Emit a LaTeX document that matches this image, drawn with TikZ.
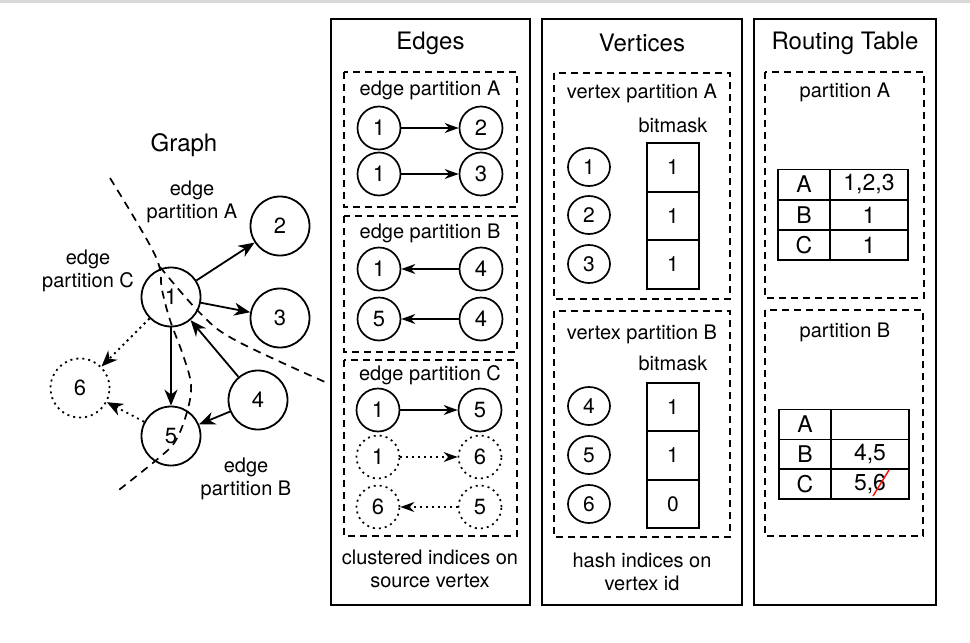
\documentclass[tikz,border=0pt]{standalone}
\usepackage{fontspec}
\setmainfont{TeX Gyre Heros}
\usetikzlibrary{arrows.meta,shapes.geometric}
\begin{document}
\begin{tikzpicture}[x=1pt,y=-1pt,
  panel/.style={draw, line width=2pt},
  partbox/.style={draw, line width=1.9pt, dash pattern=on 7pt off 5pt},
  cutline/.style={draw, line width=1.7pt, dash pattern=on 8pt off 6pt},
  dotline/.style={dash pattern=on 2pt off 4pt},
  title/.style={font=\fontsize{24}{28}\selectfont},
  txt/.style={font=\fontsize{20}{23}\selectfont, align=center},
  gv/.style={circle, draw, line width=1.8pt, minimum size=59pt, inner sep=0pt, font=\fontsize{22}{25}\selectfont},
  ev/.style={circle, draw, line width=1.7pt, minimum size=43pt, inner sep=0pt, font=\fontsize{22}{26}\selectfont},
  vv/.style={ellipse, draw, line width=1.7pt, minimum width=42pt, minimum height=38pt, inner sep=0pt, font=\fontsize{21}{24}\selectfont},
  cell/.style={rectangle, draw, line width=1.7pt, minimum width=52pt, minimum height=48.5pt, inner sep=0pt, font=\fontsize{21}{25}\selectfont},
  tl/.style={rectangle, draw, line width=1.7pt, minimum width=52pt, minimum height=30pt, inner sep=0pt, font=\fontsize{23}{26}\selectfont},
  tr/.style={rectangle, draw, line width=1.7pt, minimum width=78pt, minimum height=30pt, inner sep=0pt, font=\fontsize{23}{26}\selectfont},
  garr/.style={-{Stealth[length=16pt,width=13pt,inset=5pt]}, line width=1.8pt},
  earr/.style={-{Stealth[length=14pt,width=10pt,inset=4.5pt]}, line width=1.7pt},
]
\useasboundingbox (0,0) rectangle (970,643);
\fill[gray!30] (0,0) rectangle (970,2.5);

% ---------------- Graph ----------------
\node[title] (gtitle) at (184,145) {Graph};
\node[txt] (lA) at (192,201.5) {edge\\partition A};
\node[txt] (lC) at (88,270.5) {edge\\partition C};
\node[txt] (lB) at (246,479) {edge\\partition B};

\draw[cutline] plot[smooth, tension=0.6] coordinates {(110,178) (155,255) (162,290) (170,320) (183,355) (191,385) (187,412) (176,440) (160,457) (115,493)};
\draw[cutline] plot[smooth, tension=0.6] coordinates {(160,267) (200,313) (235,340) (325,382)};

\node[gv] (g1) at (171,297) {1};
\node[gv] (g2) at (280,226) {2};
\node[gv] (g3) at (280,318) {3};
\node[gv] (g4) at (258,400) {4};
\node[gv] (g5) at (171,436) {5};
\node[gv, dotline] (g6) at (80,388) {6};

\draw[garr] (g1) -- (g2);
\draw[garr] (g1) -- (g3);
\draw[garr] (g1) -- (g5);
\draw[garr] (g4) -- (g1);
\draw[garr] (g4) -- (g5);
\draw[garr, dotline] (g1) -- (g6);
\draw[garr, dotline] (g5) -- (g6);

% ---------------- Edges ----------------
\draw[panel] (331,19) rectangle (530,605);
\node[title] (etitle) at (430.5,43) {Edges};
\draw[partbox] (344,72) rectangle (517,207);
\draw[partbox] (344,216) rectangle (517,352);
\draw[partbox] (344,360) rectangle (517,536);
\node[txt] (epA) at (430,90) {edge partition A};
\node[txt] (epB) at (430,233) {edge partition B};
\node[txt] (epC) at (430,375) {edge partition C};

\node[ev] (a1) at (379,128) {1};
\node[ev] (a2) at (481,128) {2};
\node[ev] (a3) at (379,174) {1};
\node[ev] (a4) at (481,174) {3};
\draw[earr] (a1) -- (a2);
\draw[earr] (a3) -- (a4);

\node[ev] (b1) at (379,269) {1};
\node[ev] (b2) at (481,269) {4};
\node[ev] (b3) at (379,319) {5};
\node[ev] (b4) at (481,319) {4};
\draw[earr] (b2) -- (b1);
\draw[earr] (b4) -- (b3);

\node[ev] (c1) at (378,410) {1};
\node[ev] (c2) at (480,410) {5};
\node[ev, dotline] (c3) at (378,457) {1};
\node[ev, dotline] (c4) at (480,457) {6};
\node[ev, dotline] (c5) at (378,507) {6};
\node[ev, dotline] (c6) at (480,507) {5};
\draw[earr] (c1) -- (c2);
\draw[earr, dotline] (c3) -- (c4);
\draw[earr, dotline] (c6) -- (c5);

\node[txt] (ecap) at (430,569) {clustered indices on\\source vertex};

% ---------------- Vertices ----------------
\draw[panel] (542,19) rectangle (742,605);
\node[title] (vtitle) at (642,43) {Vertices};
\draw[partbox] (554,73) rectangle (730,299);
\draw[partbox] (554,311) rectangle (730,537);
\node[txt] (vpA) at (642,93) {vertex partition A};
\node[txt] (bmA) at (673,125) {bitmask};
\node[vv] (v1) at (589,167) {1};
\node[vv] (v2) at (589,215) {2};
\node[vv] (v3) at (589,264) {3};
\node[cell] (m1) at (673,167.5) {1};
\node[cell] (m2) at (673,216) {1};
\node[cell] (m3) at (673,264.5) {1};

\node[txt] (vpB) at (642,334) {vertex partition B};
\node[txt] (bmB) at (673,363) {bitmask};
\node[vv] (v4) at (589,406) {4};
\node[vv] (v5) at (589,455) {5};
\node[vv] (v6) at (589,504) {6};
\node[cell] (m4) at (673,407) {1};
\node[cell] (m5) at (673,455.5) {1};
\node[cell] (m6) at (673,504) {0};

\node[txt] (vcap) at (642,571.5) {hash indices on\\vertex id};

% ---------------- Routing Table ----------------
\draw[panel] (754,19) rectangle (936,605);
\node[title] (rtitle) at (845,43) {Routing Table};
\draw[partbox] (765,72) rectangle (924,298);
\draw[partbox] (765,310) rectangle (923,536);
\node[txt] (rpA) at (845,92) {partition A};
\node[txt] (rpB) at (845,332) {partition B};

\node[tl] (ra1) at (804,184.5) {A};
\node[tr] (ra2) at (869,184.5) {1,2,3};
\node[tl] (rb1) at (804,215) {B};
\node[tr] (rb2) at (869,215) {1};
\node[tl] (rc1) at (804,245) {C};
\node[tr] (rc2) at (869,245) {1};

\node[tl] (sa1) at (805,424.5) {A};
\node[tr] (sa2) at (870,424.5) {};
\node[tl] (sb1) at (805,454.5) {B};
\node[tr] (sb2) at (870,454.5) {4,5};
\node[tl] (sc1) at (805,484) {C};
\node[tr] (sc2) at (870,484) {5,6};
\coordinate (s1) at (873,496);
\coordinate (s2) at (889,470);
\draw[red!90!orange, line width=1.4pt] (s1) -- (s2);
\end{tikzpicture}
\end{document}
